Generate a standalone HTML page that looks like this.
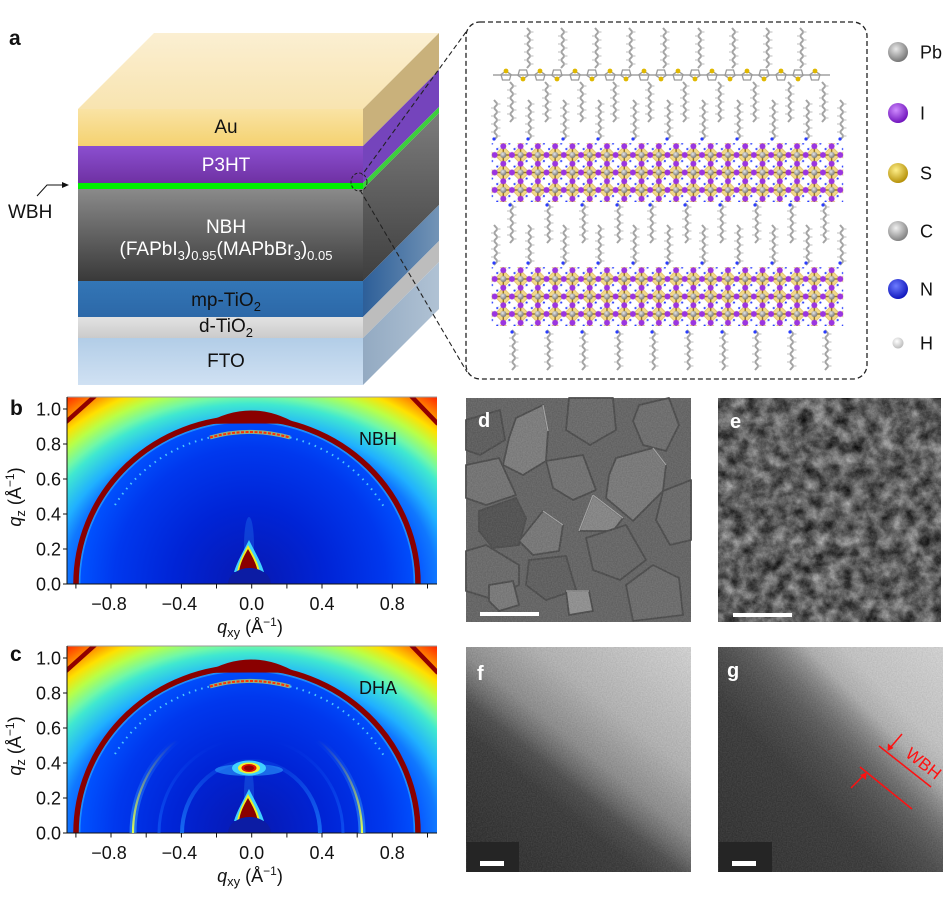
<!DOCTYPE html>
<html><head><meta charset="utf-8"><style>
html,body{margin:0;padding:0;background:#fff;width:949px;height:898px;overflow:hidden}
svg{display:block;overflow:hidden}
text{font-family:"Liberation Sans",Arial,sans-serif}
</style></head><body>
<svg width="949" height="898" viewBox="0 0 949 898" xmlns="http://www.w3.org/2000/svg">
<defs>
 <linearGradient id="gTop" x1="0" y1="0" x2="0" y2="1"><stop offset="0" stop-color="#fbefd2"/><stop offset="1" stop-color="#f8e4b0"/></linearGradient>
 <linearGradient id="gAu" x1="0" y1="0" x2="0" y2="1"><stop offset="0" stop-color="#f9e3a4"/><stop offset="1" stop-color="#f5d270"/></linearGradient>
 <linearGradient id="gP3" x1="0" y1="0" x2="0" y2="1"><stop offset="0" stop-color="#8b4fd0"/><stop offset="1" stop-color="#6f31a3"/></linearGradient>
 <linearGradient id="gNB" x1="0" y1="0" x2="0" y2="1"><stop offset="0" stop-color="#8a8a8a"/><stop offset="1" stop-color="#393939"/></linearGradient>
 <linearGradient id="gMP" x1="0" y1="0" x2="0" y2="1"><stop offset="0" stop-color="#3376b6"/><stop offset="1" stop-color="#2c68a8"/></linearGradient>
 <linearGradient id="gDT" x1="0" y1="0" x2="0" y2="1"><stop offset="0" stop-color="#e2e2e2"/><stop offset="1" stop-color="#cbcbcb"/></linearGradient>
 <linearGradient id="gFT" x1="0" y1="0" x2="0" y2="1"><stop offset="0" stop-color="#b2cde7"/><stop offset="1" stop-color="#d0e1f3"/></linearGradient>
 <linearGradient id="sNB" x1="0" y1="0" x2="0" y2="1"><stop offset="0" stop-color="#7c7c7c"/><stop offset="1" stop-color="#3e3e3e"/></linearGradient>
 <linearGradient id="sMP" x1="0" y1="0" x2="1" y2="0"><stop offset="0" stop-color="#2d5f99"/><stop offset="1" stop-color="#7394b6"/></linearGradient>
 <linearGradient id="sFT" x1="0" y1="0" x2="1" y2="0"><stop offset="0" stop-color="#93aac2"/><stop offset="1" stop-color="#b0c2d4"/></linearGradient>

 <radialGradient id="gPb" cx=".4" cy=".35" r=".7"><stop offset="0" stop-color="#e8e8e8"/><stop offset="1" stop-color="#6e6e6e"/></radialGradient>
 <radialGradient id="gI" cx=".4" cy=".35" r=".7"><stop offset="0" stop-color="#d08cff"/><stop offset="1" stop-color="#6a0cb8"/></radialGradient>
 <radialGradient id="gS" cx=".4" cy=".35" r=".7"><stop offset="0" stop-color="#fff08a"/><stop offset="1" stop-color="#b08a00"/></radialGradient>
 <radialGradient id="gC" cx=".4" cy=".35" r=".7"><stop offset="0" stop-color="#f0f0f0"/><stop offset="1" stop-color="#7a7a7a"/></radialGradient>
 <radialGradient id="gN" cx=".4" cy=".35" r=".7"><stop offset="0" stop-color="#6d7cff"/><stop offset="1" stop-color="#0a10b8"/></radialGradient>
 <radialGradient id="gH" cx=".4" cy=".35" r=".7"><stop offset="0" stop-color="#ffffff"/><stop offset="1" stop-color="#b8b8b8"/></radialGradient>

 <g id="cell">
  <polygon points="8.64,0 17.28,8.75 8.64,17.5 0,8.75" fill="#f3d98a" stroke="#d6b24e" stroke-width=".6"/>
  <line x1="0" y1="8.75" x2="17.28" y2="8.75" stroke="#8c6a10" stroke-width="1.3"/>
  <line x1="8.64" y1="0" x2="8.64" y2="17.5" stroke="#8c6a10" stroke-width="1.3"/>
  <circle cx="2.6" cy="2.8" r="1.1" fill="#2a3cff"/>
  <circle cx="14.7" cy="14.8" r="1.1" fill="#2a3cff"/>
  <circle cx="4.2" cy="1.6" r=".8" fill="#e8e8e8"/>
  <circle cx="13.2" cy="16" r=".8" fill="#e8e8e8"/>
  <circle cx="8.64" cy="8.75" r="3.1" fill="url(#gPb)"/>
  <circle cx="0" cy="8.75" r="3" fill="#9b35e0"/>
  <circle cx="17.28" cy="8.75" r="3" fill="#9b35e0"/>
  <circle cx="8.64" cy="0" r="3" fill="#9b35e0"/>
  <circle cx="8.64" cy="17.5" r="3" fill="#9b35e0"/>
 </g>
 <pattern id="pv1" patternUnits="userSpaceOnUse" x="494.66" y="146.25" width="17.28" height="17.5"><use href="#cell"/></pattern>
 <pattern id="pv2" patternUnits="userSpaceOnUse" x="494.66" y="270.25" width="17.28" height="17.5"><use href="#cell"/></pattern>

 <g id="ch">
  <polyline points="0,0 3.5,4 0,8 3.5,12 0,16 3.5,20 0,24 3.5,28 0,32 3.5,36 0,40" fill="none" stroke="#a4a4a4" stroke-width="2"/>
  <path d="M3.5,4h3M0,8h-3M3.5,12h3M0,16h-3M3.5,20h3M0,24h-3M3.5,28h3M0,32h-3M3.5,36h3" stroke="#d4d4d4" stroke-width="1.4"/>
 </g>

 <radialGradient id="jo" gradientUnits="userSpaceOnUse" cx="251" cy="584" r="310" gradientTransform="translate(0,584) scale(1,0.8) translate(0,-584)">
  <stop offset="0" stop-color="#0010c0"/>
  <stop offset="0.5" stop-color="#0040ff"/>
  <stop offset="0.6" stop-color="#1078ff"/>
  <stop offset="0.648" stop-color="#20b0ff"/>
  <stop offset="0.726" stop-color="#40e8d0"/>
  <stop offset="0.755" stop-color="#70f8a8"/>
  <stop offset="0.806" stop-color="#b8ff48"/>
  <stop offset="0.855" stop-color="#ffe000"/>
  <stop offset="0.903" stop-color="#ff8800"/>
  <stop offset="0.961" stop-color="#ff2800"/>
  <stop offset="1" stop-color="#d00000"/>
 </radialGradient>
 <radialGradient id="ji" gradientUnits="userSpaceOnUse" cx="250" cy="584" r="170">
  <stop offset="0" stop-color="#0818b0"/>
  <stop offset="0.45" stop-color="#0024d6"/>
  <stop offset="0.8" stop-color="#0038ee"/>
  <stop offset="1" stop-color="#0052ff"/>
 </radialGradient>
 <clipPath id="cpj"><rect x="67" y="397" width="370" height="187"/></clipPath>

 <g id="gw">
  <g clip-path="url(#cpj)">
   <rect x="67" y="397" width="370" height="187" fill="url(#jo)"/>
   <line x1="66" y1="422" x2="95" y2="396" stroke="#900000" stroke-width="4.5"/>
   <line x1="411" y1="396" x2="438" y2="424" stroke="#900000" stroke-width="4.5"/>
   <path d="M79,584 A168,163 0 0 1 415,584 Z" fill="url(#ji)"/>
   <path d="M79.5,584 A167.5,162.5 0 0 1 414.5,584" fill="none" stroke="#30b8ff" stroke-width="1.8" opacity=".6"/>
   <path d="M76,584 A171,166 0 0 1 418,584" fill="none" stroke="#8a0000" stroke-width="5.5"/>
   <path d="M205,424 Q251,397 297,424 Q251,423 205,424 Z" fill="#8a0000"/>
   <path d="M210,437.5 A150,152 0 0 1 290,437.5" fill="none" stroke="#e8ff40" stroke-width="4" opacity=".6"/>
   <path d="M210,437.5 A150,152 0 0 1 290,437.5" fill="none" stroke="#ff3000" stroke-width="2" stroke-dasharray="3 1.5"/>
   <path d="M115,505 A150,152 0 0 1 210,437.5" fill="none" stroke="#60e8ff" stroke-width="2" stroke-dasharray="1.5 5" opacity=".8"/>
   <path d="M290,437.5 A150,152 0 0 1 384,507" fill="none" stroke="#60e8ff" stroke-width="2" stroke-dasharray="1.5 5" opacity=".8"/>
   <ellipse cx="249" cy="545" rx="5" ry="28" fill="#30a0ff" opacity=".25"/>
   <path d="M249,540 C255,552 261,562 264,572 L234,572 C237,562 243,552 249,540 Z" fill="#40d0ff"/>
   <path d="M248,545 C253,554 258,562 260,572 L237,572 C239,562 243,554 248,545 Z" fill="#f0f020"/>
   <path d="M248,549 C252,556 256,563 258,572 L239,572 C240,563 244,556 248,549 Z" fill="#8a0000"/>
   <path d="M228,584 A21.5,16 0 0 1 271,584 Z" fill="#0c1ca4"/>
  </g>
  <line x1="67" y1="397" x2="437" y2="397" stroke="#9a9a9a" stroke-width="1"/>
  <line x1="67" y1="397" x2="67" y2="584.5" stroke="#111" stroke-width="1"/>
  <line x1="67" y1="584" x2="437" y2="584" stroke="#111" stroke-width="1"/>
  <path d="M63,584H67M63,549H67M63,514H67M63,479H67M63,444H67M63,409H67" stroke="#111" stroke-width="1"/>
  <path d="M75.9,584V588.5M111,584V588.5M146.2,584V588.5M181.4,584V588.5M216.5,584V588.5M251.7,584V588.5M286.9,584V588.5M322,584V588.5M357.2,584V588.5M392.3,584V588.5M427.5,584V588.5" stroke="#111" stroke-width="1"/>
  <g font-size="18" fill="#111" text-anchor="end">
   <text x="61" y="590.5">0.0</text>
   <text x="61" y="555.5">0.2</text>
   <text x="61" y="520.5">0.4</text>
   <text x="61" y="485.5">0.6</text>
   <text x="61" y="450.5">0.8</text>
   <text x="61" y="415.5">1.0</text>
  </g>
  <g font-size="18" fill="#111" text-anchor="middle">
   <text x="109" y="610">−0.8</text>
   <text x="179.4" y="610">−0.4</text>
   <text x="251.7" y="610">0.0</text>
   <text x="322" y="610">0.4</text>
   <text x="392.3" y="610">0.8</text>
  </g>
  <text x="250" y="633" font-size="18" fill="#111" text-anchor="middle"><tspan font-style="italic">q</tspan><tspan font-size="13" dy="4">xy</tspan><tspan dy="-4"> (Å</tspan><tspan font-size="12" dy="-7">−1</tspan><tspan dy="7">)</tspan></text>
  <text transform="translate(21,497) rotate(-90)" font-size="18" fill="#111" text-anchor="middle"><tspan font-style="italic">q</tspan><tspan font-size="13" dy="4">z</tspan><tspan dy="-4"> (Å</tspan><tspan font-size="12" dy="-7">−1</tspan><tspan dy="7">)</tspan></text>
 </g>

 <filter id="fe" x="0" y="0" width="1" height="1" color-interpolation-filters="sRGB">
  <feTurbulence type="fractalNoise" baseFrequency="0.075" numOctaves="5" seed="7"/>
  <feColorMatrix type="matrix" values="0.9 0 0 0 -0.1  0.9 0 0 0 -0.1  0.9 0 0 0 -0.1  0 0 0 0 1"/>
 </filter>
 <filter id="fn" x="0" y="0" width="1" height="1" color-interpolation-filters="sRGB">
  <feTurbulence type="fractalNoise" baseFrequency="0.8" numOctaves="1" seed="3"/>
  <feColorMatrix type="matrix" values="1 0 0 0 0  1 0 0 0 0  1 0 0 0 0  0 0 0 0 1"/>
 </filter>

 <linearGradient id="gf" gradientUnits="userSpaceOnUse" x1="489.5" y1="892" x2="689.5" y2="642.6">
  <stop offset="0" stop-color="#262626"/>
  <stop offset="0.344" stop-color="#363636"/>
  <stop offset="0.422" stop-color="#4a4a4a"/>
  <stop offset="0.469" stop-color="#6a6a6a"/>
  <stop offset="0.531" stop-color="#8e8e8e"/>
  <stop offset="0.6875" stop-color="#b8b8b8"/>
  <stop offset="1" stop-color="#dcdcdc"/>
 </linearGradient>
 <linearGradient id="gg" gradientUnits="userSpaceOnUse" x1="705.8" y1="865" x2="937.8" y2="637.5">
  <stop offset="0" stop-color="#2a2a2a"/>
  <stop offset="0.385" stop-color="#363636"/>
  <stop offset="0.492" stop-color="#484848"/>
  <stop offset="0.554" stop-color="#5a5a5a"/>
  <stop offset="0.6" stop-color="#707070"/>
  <stop offset="0.646" stop-color="#8e8e8e"/>
  <stop offset="0.692" stop-color="#b4b4b4"/>
  <stop offset="0.769" stop-color="#cacaca"/>
  <stop offset="1" stop-color="#dcdcdc"/>
 </linearGradient>
 <linearGradient id="fadeR" gradientUnits="userSpaceOnUse" x1="0" y1="833" x2="0" y2="740">
  <stop offset="0" stop-color="#fff" stop-opacity="1"/>
  <stop offset="1" stop-color="#fff" stop-opacity="0"/>
 </linearGradient>
 <mask id="mfade" maskUnits="userSpaceOnUse" x="60" y="640" width="390" height="200"><rect x="60" y="640" width="390" height="200" fill="url(#fadeR)"/></mask>
</defs>

<!-- ================= Panel a ================= -->
<text x="9" y="45" font-size="21" font-weight="bold" fill="#111">a</text>
<polygon points="78,109 154,33 439,33 363,109" fill="url(#gTop)"/>
<polygon points="363,109 439,33 439,70 363,146" fill="#c9b17b"/>
<polygon points="363,146 439,70 439,107 363,183" fill="#7544bc"/>
<polygon points="363,183 439,107 439,113 363,189" fill="#3ccf3c"/>
<polygon points="363,189 439,113 439,205 363,281" fill="url(#sNB)"/>
<polygon points="363,281 439,205 439,241 363,317" fill="url(#sMP)"/>
<polygon points="363,317 439,241 439,262 363,338" fill="#bdbdbd"/>
<polygon points="363,338 439,262 439,309 363,385" fill="url(#sFT)"/>
<rect x="78" y="109" width="285" height="37" fill="url(#gAu)"/>
<rect x="78" y="146" width="285" height="37" fill="url(#gP3)"/>
<rect x="78" y="183" width="285" height="6" fill="#00ee00"/>
<rect x="78" y="189" width="285" height="92" fill="url(#gNB)"/>
<rect x="78" y="281" width="285" height="36" fill="url(#gMP)"/>
<rect x="78" y="317" width="285" height="21" fill="url(#gDT)"/>
<rect x="78" y="338" width="285" height="47" fill="url(#gFT)"/>
<g font-size="19" text-anchor="middle">
 <text x="226" y="133" fill="#111">Au</text>
 <text x="226" y="171" fill="#fff">P3HT</text>
 <text x="226" y="233" fill="#fff">NBH</text>
 <text x="226" y="255" fill="#fff">(FAPbI<tspan font-size="13" dy="5">3</tspan><tspan dy="-5">)</tspan><tspan font-size="13" dy="5">0.95</tspan><tspan dy="-5">(MAPbBr</tspan><tspan font-size="13" dy="5">3</tspan><tspan dy="-5">)</tspan><tspan font-size="13" dy="5">0.05</tspan></text>
 <text x="226" y="306" fill="#111">mp-TiO<tspan font-size="13" dy="5">2</tspan></text>
 <text x="226" y="332" fill="#111">d-TiO<tspan font-size="13" dy="5">2</tspan></text>
 <text x="226" y="367" fill="#111">FTO</text>
</g>
<text x="8" y="218" font-size="19" fill="#111">WBH</text>
<path d="M37,196 L47,185 L66,185" fill="none" stroke="#111" stroke-width="1"/>
<path d="M69,185 L62,182 L62,188 Z" fill="#111"/>
<ellipse cx="359" cy="182" rx="8" ry="9" fill="none" stroke="#222" stroke-width="1" stroke-dasharray="3 2"/>
<line x1="466" y1="32" x2="362" y2="175" stroke="#222" stroke-width="1.1" stroke-dasharray="5 3"/>
<line x1="360" y1="190" x2="467" y2="372" stroke="#222" stroke-width="1.1" stroke-dasharray="5 3"/>

<!-- molecular box -->
<rect x="466" y="22" width="401" height="357" rx="14" fill="#fff" stroke="#222" stroke-width="1.3" stroke-dasharray="5 3"/>
<g>
 <use href="#ch" x="527" y="28"/><use href="#ch" x="561" y="28"/><use href="#ch" x="595" y="28"/>
 <use href="#ch" x="629" y="28"/><use href="#ch" x="663" y="28"/><use href="#ch" x="698" y="28"/>
 <use href="#ch" x="732" y="28"/><use href="#ch" x="766" y="28"/><use href="#ch" x="800" y="28"/>
</g>
<g>
 <use href="#ch" x="510" y="82"/><use href="#ch" x="545" y="82"/><use href="#ch" x="580" y="82"/>
 <use href="#ch" x="613" y="82"/><use href="#ch" x="648" y="82"/><use href="#ch" x="683" y="82"/>
 <use href="#ch" x="718" y="82"/><use href="#ch" x="753" y="82"/><use href="#ch" x="788" y="82"/>
 <use href="#ch" x="822" y="82"/>
</g>
<line x1="493" y1="75" x2="830" y2="75" stroke="#a0a0a0" stroke-width="1.6"/>
<g fill="none" stroke="#9a9a9a" stroke-width="1.3">
 <path d="M506,71l5,3.5l-1.5,5.5h-7l-1.5,-5.5z"/><path d="M540,71l5,3.5l-1.5,5.5h-7l-1.5,-5.5z"/>
 <path d="M575,71l5,3.5l-1.5,5.5h-7l-1.5,-5.5z"/><path d="M610,71l5,3.5l-1.5,5.5h-7l-1.5,-5.5z"/>
 <path d="M644,71l5,3.5l-1.5,5.5h-7l-1.5,-5.5z"/><path d="M678,71l5,3.5l-1.5,5.5h-7l-1.5,-5.5z"/>
 <path d="M712,71l5,3.5l-1.5,5.5h-7l-1.5,-5.5z"/><path d="M747,71l5,3.5l-1.5,5.5h-7l-1.5,-5.5z"/>
 <path d="M781,71l5,3.5l-1.5,5.5h-7l-1.5,-5.5z"/><path d="M815,71l5,3.5l-1.5,5.5h-7l-1.5,-5.5z"/>
 <path d="M523,79l5,-3.5l-1.5,-5.5h-7l-1.5,5.5z"/><path d="M557,79l5,-3.5l-1.5,-5.5h-7l-1.5,5.5z"/>
 <path d="M592,79l5,-3.5l-1.5,-5.5h-7l-1.5,5.5z"/><path d="M626,79l5,-3.5l-1.5,-5.5h-7l-1.5,5.5z"/>
 <path d="M661,79l5,-3.5l-1.5,-5.5h-7l-1.5,5.5z"/><path d="M695,79l5,-3.5l-1.5,-5.5h-7l-1.5,5.5z"/>
 <path d="M730,79l5,-3.5l-1.5,-5.5h-7l-1.5,5.5z"/><path d="M764,79l5,-3.5l-1.5,-5.5h-7l-1.5,5.5z"/>
 <path d="M798,79l5,-3.5l-1.5,-5.5h-7l-1.5,5.5z"/>
</g>
<g fill="#e0b800">
 <circle cx="506" cy="71" r="2.4"/><circle cx="540" cy="71" r="2.4"/><circle cx="575" cy="71" r="2.4"/>
 <circle cx="610" cy="71" r="2.4"/><circle cx="644" cy="71" r="2.4"/><circle cx="678" cy="71" r="2.4"/>
 <circle cx="712" cy="71" r="2.4"/><circle cx="747" cy="71" r="2.4"/><circle cx="781" cy="71" r="2.4"/>
 <circle cx="815" cy="71" r="2.4"/>
 <circle cx="523" cy="79" r="2.4"/><circle cx="557" cy="79" r="2.4"/><circle cx="592" cy="79" r="2.4"/>
 <circle cx="626" cy="79" r="2.4"/><circle cx="661" cy="79" r="2.4"/><circle cx="695" cy="79" r="2.4"/>
 <circle cx="730" cy="79" r="2.4"/><circle cx="764" cy="79" r="2.4"/><circle cx="798" cy="79" r="2.4"/>
</g>
<g>
 <use href="#ch" x="494" y="100"/><use href="#ch" x="528" y="100"/><use href="#ch" x="563" y="100"/>
 <use href="#ch" x="598" y="100"/><use href="#ch" x="633" y="100"/><use href="#ch" x="667" y="100"/>
 <use href="#ch" x="702" y="100"/><use href="#ch" x="737" y="100"/><use href="#ch" x="772" y="100"/>
 <use href="#ch" x="806" y="100"/><use href="#ch" x="840" y="100"/>
 <use href="#ch" x="510" y="203"/><use href="#ch" x="547" y="203"/><use href="#ch" x="582" y="203"/>
 <use href="#ch" x="617" y="203"/><use href="#ch" x="650" y="203"/><use href="#ch" x="685" y="203"/>
 <use href="#ch" x="720" y="203"/><use href="#ch" x="755" y="203"/><use href="#ch" x="790" y="203"/>
 <use href="#ch" x="823" y="203"/>
 <use href="#ch" x="494" y="225"/><use href="#ch" x="528" y="225"/><use href="#ch" x="563" y="225"/>
 <use href="#ch" x="598" y="225"/><use href="#ch" x="633" y="225"/><use href="#ch" x="667" y="225"/>
 <use href="#ch" x="702" y="225"/><use href="#ch" x="737" y="225"/><use href="#ch" x="772" y="225"/>
 <use href="#ch" x="806" y="225"/><use href="#ch" x="840" y="225"/>
 <use href="#ch" x="512" y="330"/><use href="#ch" x="547" y="330"/><use href="#ch" x="582" y="330"/>
 <use href="#ch" x="617" y="330"/><use href="#ch" x="652" y="330"/><use href="#ch" x="687" y="330"/>
 <use href="#ch" x="722" y="330"/><use href="#ch" x="755" y="330"/><use href="#ch" x="790" y="330"/>
 <use href="#ch" x="825" y="330"/>
</g>
<g fill="#2a3cff">
 <circle cx="494" cy="139" r="1.6"/><circle cx="528" cy="139" r="1.6"/><circle cx="563" cy="139" r="1.6"/>
 <circle cx="598" cy="139" r="1.6"/><circle cx="633" cy="139" r="1.6"/><circle cx="667" cy="139" r="1.6"/>
 <circle cx="702" cy="139" r="1.6"/><circle cx="737" cy="139" r="1.6"/><circle cx="772" cy="139" r="1.6"/>
 <circle cx="806" cy="139" r="1.6"/><circle cx="840" cy="139" r="1.6"/>
 <circle cx="510" cy="205" r="1.6"/><circle cx="547" cy="205" r="1.6"/><circle cx="582" cy="205" r="1.6"/>
 <circle cx="617" cy="205" r="1.6"/><circle cx="650" cy="205" r="1.6"/><circle cx="685" cy="205" r="1.6"/>
 <circle cx="720" cy="205" r="1.6"/><circle cx="755" cy="205" r="1.6"/><circle cx="790" cy="205" r="1.6"/>
 <circle cx="823" cy="205" r="1.6"/>
 <circle cx="494" cy="263" r="1.6"/><circle cx="528" cy="263" r="1.6"/><circle cx="563" cy="263" r="1.6"/>
 <circle cx="598" cy="263" r="1.6"/><circle cx="633" cy="263" r="1.6"/><circle cx="667" cy="263" r="1.6"/>
 <circle cx="702" cy="263" r="1.6"/><circle cx="737" cy="263" r="1.6"/><circle cx="772" cy="263" r="1.6"/>
 <circle cx="806" cy="263" r="1.6"/><circle cx="840" cy="263" r="1.6"/>
 <circle cx="512" cy="332" r="1.6"/><circle cx="547" cy="332" r="1.6"/><circle cx="582" cy="332" r="1.6"/>
 <circle cx="617" cy="332" r="1.6"/><circle cx="652" cy="332" r="1.6"/><circle cx="687" cy="332" r="1.6"/>
 <circle cx="722" cy="332" r="1.6"/><circle cx="755" cy="332" r="1.6"/><circle cx="790" cy="332" r="1.6"/>
 <circle cx="825" cy="332" r="1.6"/>
</g>
<rect x="491.7" y="143.2" width="351.5" height="58.8" fill="url(#pv1)"/>
<rect x="491.7" y="267.2" width="351.5" height="58.8" fill="url(#pv2)"/>

<!-- legend -->
<circle cx="898" cy="52" r="10" fill="url(#gPb)"/>
<circle cx="898" cy="113" r="10" fill="url(#gI)"/>
<circle cx="898" cy="173" r="10" fill="url(#gS)"/>
<circle cx="898" cy="231" r="10" fill="url(#gC)"/>
<circle cx="898" cy="289" r="10" fill="url(#gN)"/>
<circle cx="898" cy="343" r="5.5" fill="url(#gH)"/>
<g font-size="18" fill="#111">
 <text x="920" y="58.5">Pb</text>
 <text x="920" y="119.5">I</text>
 <text x="920" y="179.5">S</text>
 <text x="920" y="237.5">C</text>
 <text x="920" y="295.5">N</text>
 <text x="920" y="349.5">H</text>
</g>

<!-- ================= Panel b ================= -->
<use href="#gw"/>
<text x="10" y="415" font-size="21" font-weight="bold" fill="#111">b</text>
<text x="359" y="445" font-size="18" fill="#111">NBH</text>

<!-- ================= Panel c ================= -->
<use href="#gw" transform="translate(0,249)"/>
<g clip-path="url(#cpj)" transform="translate(0,249)">
 <g mask="url(#mfade)" transform="translate(0,-249)">
  <path d="M133,833 A114.5,118 0 0 1 362,833" fill="none" stroke="#40b0ff" stroke-width="7" opacity=".55"/>
  <path d="M133,833 A114.5,118 0 0 1 362,833" fill="none" stroke="#e0ff50" stroke-width="2.2"/>
  <path d="M182,833 A69,72 0 0 1 320,833" fill="none" stroke="#2088ff" stroke-width="4" opacity=".7"/>
  <path d="M159,833 A92,95 0 0 1 343,833" fill="none" stroke="#1870ff" stroke-width="3" opacity=".5"/>
 </g>
</g>
<ellipse cx="249" cy="770" rx="34" ry="6" fill="#30a8ff" opacity=".55"/>
<ellipse cx="249" cy="768" rx="17" ry="7.5" fill="#40d0ff"/>
<ellipse cx="249" cy="768" rx="11" ry="5.5" fill="#f0f030"/>
<ellipse cx="249" cy="768" rx="7.5" ry="4" fill="#e01000"/>
<ellipse cx="249" cy="768" rx="5" ry="2.6" fill="#900000"/>
<text x="10" y="661" font-size="21" font-weight="bold" fill="#111">c</text>
<text x="359" y="694" font-size="18" fill="#111">DHA</text>

<!-- ================= Panel d ================= -->
<rect x="466" y="398" width="225" height="224" fill="#646464"/>
<g stroke="#4a4a4a" stroke-width="1.8" stroke-linejoin="round">
 <polygon points="516,418 543,405 548,431 546,461 523,475 503,465 509,438" fill="#7e7e7e"/>
 <polygon points="616,458 653,448 666,465 663,491 633,521 606,498 609,475" fill="#7a7a7a"/>
 <polygon points="479,511 516,498 526,518 519,545 493,548 479,531" fill="#505050"/>
 <polygon points="579,531 593,495 623,518 613,531" fill="#888888"/>
 <polygon points="519,541 543,511 563,525 559,551 533,555" fill="#787878"/>
 <polygon points="626,585 653,565 679,578 683,615 633,621" fill="#6c6c6c"/>
 <polygon points="639,405 669,398 679,425 666,451 643,445 633,421" fill="#6e6e6e"/>
 <polygon points="466,465 499,458 516,495 486,505 466,498" fill="#747474"/>
 <polygon points="466,551 486,545 519,565 519,585 489,598 466,591" fill="#6a6a6a"/>
 <polygon points="489,585 513,581 519,605 499,611 489,601" fill="#7a7a7a"/>
 <polygon points="546,461 583,455 596,490 573,500 553,488" fill="#727272"/>
 <polygon points="569,398 613,398 616,430 590,445 566,430" fill="#6a6a6a"/>
 <polygon points="586,538 626,525 646,560 620,580 593,570" fill="#666666"/>
 <polygon points="663,491 691,480 691,540 670,545 656,520" fill="#6a6a6a"/>
 <polygon points="529,560 566,556 576,590 546,600 526,585" fill="#5e5e5e"/>
 <polygon points="566,591 589,591 593,611 569,615" fill="#939393"/>
 <polygon points="466,420 500,410 505,440 480,455 466,450" fill="#5c5c5c"/>
</g>
<g stroke="#a8a8a8" stroke-width="1.3" fill="none">
 <path d="M543,405 L548,431"/><path d="M653,448 L666,465"/><path d="M593,495 L623,518"/>
 <path d="M543,511 L563,525"/><path d="M566,591 L589,591"/><path d="M579,531 L593,495"/>
</g>
<rect x="466" y="398" width="225" height="224" filter="url(#fn)" opacity=".12"/>
<rect x="480" y="612" width="59" height="4" fill="#fff"/>
<text x="478" y="427" font-size="20" font-weight="bold" fill="#fff">d</text>

<!-- ================= Panel e ================= -->
<rect x="718" y="398" width="223" height="224" fill="#5a5a5a"/>
<rect x="718" y="398" width="223" height="224" filter="url(#fe)"/>
<rect x="718" y="398" width="223" height="224" filter="url(#fn)" opacity=".12"/>
<rect x="733" y="613" width="59" height="4" fill="#fff"/>
<text x="730" y="428" font-size="20" font-weight="bold" fill="#fff">e</text>

<!-- ================= Panel f ================= -->
<rect x="466" y="647" width="225" height="225" fill="url(#gf)"/>
<rect x="466" y="647" width="225" height="225" filter="url(#fn)" opacity=".13"/>
<rect x="467" y="842" width="52" height="30" fill="#252525"/>
<rect x="480" y="861" width="24" height="5" fill="#fff"/>
<text x="477" y="680" font-size="20" font-weight="bold" fill="#fff">f</text>

<!-- ================= Panel g ================= -->
<rect x="718" y="647" width="225" height="225" fill="url(#gg)"/>
<rect x="718" y="647" width="225" height="225" filter="url(#fn)" opacity=".13"/>
<rect x="719" y="842" width="53" height="30" fill="#252525"/>
<rect x="732" y="861" width="24" height="5" fill="#fff"/>
<text x="727" y="677" font-size="20" font-weight="bold" fill="#fff">g</text>
<g stroke="#ff1010" stroke-width="1.5" fill="none">
 <line x1="879" y1="746" x2="931" y2="787"/>
 <line x1="860" y1="767" x2="912" y2="809"/>
 <line x1="902" y1="734" x2="890" y2="748"/>
 <line x1="851" y1="788" x2="864" y2="775"/>
</g>
<path d="M887.5,751 L888,743.5 L893.5,748 Z" fill="#ff1010"/>
<path d="M866.5,772.5 L866,780 L860,775 Z" fill="#ff1010"/>
<text transform="translate(920,768) rotate(38)" font-size="17" fill="#ff1010" text-anchor="middle">WBH</text>
</svg>
</body></html>
